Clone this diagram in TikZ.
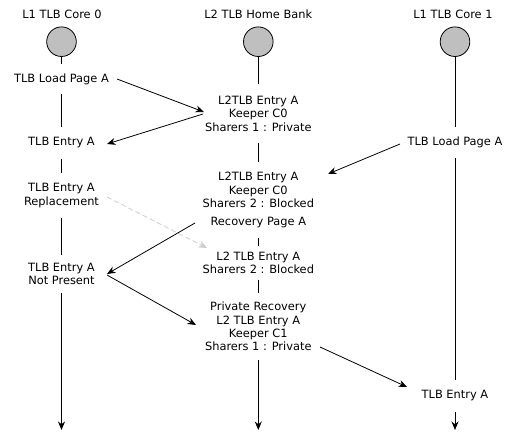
\documentclass[tikz,border=0pt]{standalone}
\usepackage{fontspec}
\setmainfont{DejaVu Sans}
\usetikzlibrary{arrows.meta}
\begin{document}
\begin{tikzpicture}[x=1pt, y=-1pt,
  every node/.style={font=\fontsize{11.4}{13.5}\selectfont},
  lane/.style={circle, draw=black, fill=black!25, line width=0.8pt, minimum size=29.6pt, inner sep=0pt},
  event/.style={align=center, inner sep=0pt, minimum width=20pt},
  life/.style={line width=0.8pt},
  msg/.style={line width=0.8pt, -{Stealth[length=8.5pt, width=7pt]}},
  ghost/.style={line width=0.8pt, draw=black!20, dash pattern=on 5pt off 3pt,
                -{Stealth[length=8.5pt, width=7pt, fill=black!20]}}]
  \useasboundingbox (0,0) rectangle (511,435);

  % column headings
  \node (t0) at (62,14) {L1 TLB Core 0};
  \node (t1) at (258.3,14) {L2 TLB Home Bank};
  \node (t2) at (453,14) {L1 TLB Core 1};

  % lane heads
  \node[lane] (c0) at (61.5,41.7) {};
  \node[lane] (c1) at (258.3,41.7) {};
  \node[lane] (c2) at (455,41.7) {};

  % core 0 events
  \node[event, minimum height=30pt] (load0) at (61.5,79) {TLB Load Page A};
  \node[event, minimum height=32pt] (entry0) at (61.5,143) {TLB Entry A};
  \node[event, minimum height=45pt] (repl0) at (61.5,195.5) {TLB Entry A\\Replacement};
  \node[event, minimum height=38pt] (notp0) at (61.5,274) {TLB Entry A\\Not Present};
  \coordinate (end0) at (61.5,430);

  % home bank events
  \node[event, minimum height=59pt] (blk1) at (258.3,113.5) {L2TLB Entry A\\Keeper C0\\Sharers 1 : Private};
  \node[event, minimum height=56pt] (blk2) at (258.3,190) {L2TLB Entry A\\Keeper C0\\Sharers 2 : Blocked};
  \node[event, minimum height=30pt] (recov) at (258.3,223) {Recovery Page A};
  \node[event, minimum height=33pt] (blk3) at (258.3,263) {L2 TLB Entry A\\Sharers 2 : Blocked};
  \node[event, minimum height=67pt] (blk4) at (258.3,326.5) {Private Recovery\\L2 TLB Entry A\\Keeper C1\\Sharers 1 : Private};
  \coordinate (end1) at (258.3,430);

  % core 1 events
  \node[event, minimum height=31pt] (load1) at (455,142.5) {TLB Load Page A};
  \node[event, minimum height=32pt] (entry1) at (455,396) {TLB Entry A};
  \coordinate (end2) at (455,430);

  % lifelines
  \draw[life] (c0) -- (load0);
  \draw[life] (load0) -- (entry0);
  \draw[life] (entry0) -- (repl0);
  \draw[life] (repl0) -- (notp0);
  \draw[msg] (notp0) -- (end0);

  \draw[life] (c1) -- (blk1);
  \draw[life] (blk1) -- (blk2);
  \draw[life] (recov) -- (blk3);
  \draw[life] (blk3) -- (blk4);
  \draw[msg] (blk4) -- (end1);

  \draw[life] (c2) -- (load1);
  \draw[life] (load1) -- (entry1);
  \draw[msg] (entry1) -- (end2);

  % messages
  \draw[msg] ([shift={(55.5,0)}]load0.center) -- ([shift={(-54.3,-1.5)}]blk1.center);
  \draw[msg] ([shift={(-55.3,0.5)}]blk1.center) -- ([shift={(45.5,1)}]entry0.center);
  \draw[msg] ([shift={(-55,1.5)}]load1.center) -- ([shift={(69.7,-16)}]blk2.center);
  \draw[ghost] ([shift={(45.5,1.5)}]repl0.center) -- ([shift={(-51.3,-15)}]blk3.center);
  \draw[msg] ([shift={(-63.3,0)}]recov.center) -- ([shift={(45.5,0)}]notp0.center);
  \draw[msg] ([shift={(45.5,1)}]notp0.center) -- ([shift={(-62.3,-1.5)}]blk4.center);
  \draw[msg] ([shift={(61.7,20.5)}]blk4.center) -- ([shift={(-48,-9)}]entry1.center);
\end{tikzpicture}
\end{document}
